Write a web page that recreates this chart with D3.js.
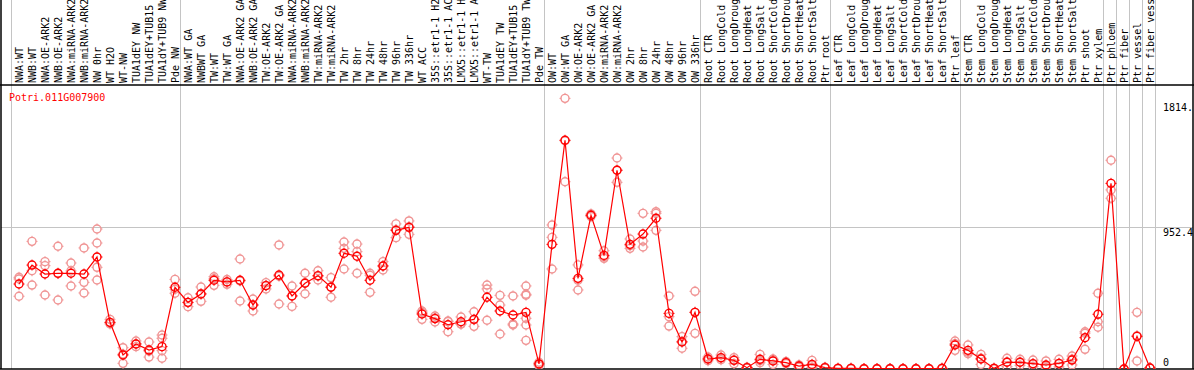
<!DOCTYPE html>
<html>
<head>
<meta charset="utf-8">
<script src="https://cdnjs.cloudflare.com/ajax/libs/d3/7.8.5/d3.min.js"></script>
<style>
	body { margin: 0; background: #fff; }
	svg { display: block; }
	text { font-family: 'DejaVu Sans Mono', monospace; font-size: 10px; }
</style>
</head>
<body>
<script>

// sample names, one per column
var categories = [
	'NWA:WT', 'NWB:WT', 'NWA:OE-ARK2', 'NWB:OE-ARK2', 'NWA:miRNA-ARK2', 'NWB:miRNA-ARK2',
	'NW 0hr', 'WT H2O', 'WT-NW', 'TUA1dEY NW', 'TUA1dEY+TUB15 NW', 'TUA1dY+TUB9 NW', 'Pde NW',
	'NWA:WT GA', 'NWBWT GA', 'TW:WT', 'TW:WT GA', 'NWA:OE-ARK2 GA', 'NWB:OE-ARK2 GA',
	'TW:OE-ARK2', 'TW:OE-ARK2 GA', 'NWA:miRNA-ARK2 GA', 'NWB:miRNA-ARK2 GA', 'TW:miRNA-ARK2',
	'TW:miRNA-ARK2 GA', 'TW 2hr', 'TW 8hr', 'TW 24hr', 'TW 48hr', 'TW 96hr', 'TW 336hr', 'WT ACC',
	'35S::etr1-1 H2O', '35S::etr1-1 ACC', 'LMX5::etr1-1 H2O', 'LMX5::etr1-1 ACC', 'WT-TW',
	'TUA1dEY TW', 'TUA1dEY+TUB15 TW', 'TUA1dY+TUB9 TW', 'Pde TW',
	'OW:WT', 'OW:WT GA', 'OW:OE-ARK2', 'OW:OE-ARK2 GA', 'OW:miRNA-ARK2', 'OW:miRNA-ARK2 GA',
	'OW 2hr', 'OW 8hr', 'OW 24hr', 'OW 48hr', 'OW 96hr', 'OW 336hr',
	'Root CTR', 'Root LongCold', 'Root LongDrought', 'Root LongHeat', 'Root LongSalt',
	'Root ShortCold', 'Root ShortDrought', 'Root ShortHeat', 'Root ShortSalt', 'Ptr root',
	'Leaf CTR', 'Leaf LongCold', 'Leaf LongDrought', 'Leaf LongHeat', 'Leaf LongSalt',
	'Leaf ShortCold', 'Leaf ShortDrought', 'Leaf ShortHeat', 'Leaf ShortSalt', 'Ptr leaf',
	'Stem CTR', 'Stem LongCold', 'Stem LongDrought', 'Stem LongHeat', 'Stem LongSalt',
	'Stem ShortCold', 'Stem ShortDrought', 'Stem ShortHeat', 'Stem ShortSalt', 'Ptr shoot',
	'Ptr xylem', 'Ptr phloem', 'Ptr fiber', 'Ptr vessel', 'Ptr fiber vessel'
];

// first sample of each block (grey separators)
var groupStarts = [
	'NWA:WT', 'NWA:WT GA', 'OW:WT', 'Root CTR', 'Leaf CTR', 'Stem CTR',
	'Ptr phloem', 'Ptr fiber', 'Ptr vessel', 'Ptr fiber vessel'
];

// mean expression per sample
var means = [
	570, 697, 637, 642, 642, 637, 751, 313, 94, 168, 127, 150, 548,
	447, 503, 595, 584, 595, 429, 559, 630, 490, 575, 626, 548, 776, 756, 595, 691, 930,
	950, 369, 338, 297, 317, 333, 481, 389, 362, 380, 34,
	836, 1534, 608, 1031, 762, 1333, 836, 905, 1011, 373, 181, 380,
	67, 76, 58, 9, 65, 54, 43, 20, 31, 9,
	4, 4, 2, 2, 2, 2, 2, 2, 4, 161,
	125, 67, 4, 45, 45, 36, 27, 38, 60, 210, 367,
	1245, 0, 219, 7
];

// replicate values per sample
var replicates = [
	[615, 604, 488], [856, 659, 563], [720, 693, 496], [823, 640, 463], [711, 658, 557],
	[812, 581, 510], [939, 845, 682, 597], [333, 310, 302], [143, 100, 38], [188, 168, 150],
	[181, 120, 80], [228, 206, 123, 72], [601, 535, 508],
	[478, 445, 418], [550, 505, 454], [619, 605, 561], [600, 584, 568], [738, 590, 456],
	[469, 430, 389], [579, 560, 537], [832, 622, 436], [557, 490, 420], [642, 578, 505],
	[659, 622, 597], [613, 550, 481], [852, 809, 671], [838, 787, 642], [642, 629, 514],
	[720, 691, 664], [973, 935, 881], [993, 955, 903], [389, 380, 333], [355, 342, 315],
	[322, 318, 250], [349, 303, 300], [384, 330, 286], [563, 537, 327], [494, 429, 235],
	[490, 302, 295], [557, 501, 495, 340, 295, 192], [45, 34, 22],
	[966, 883, 671], [1815, 1531, 1256], [698, 596, 530], [1040, 1031, 1022], [793, 752, 742],
	[1415, 1333, 1252], [872, 827, 809], [1044, 858, 818], [1055, 1044, 930], [490, 351, 288],
	[217, 185, 139], [521, 380, 239],
	[80, 67, 55], [94, 72, 62], [76, 62, 36], [12, 9, 6], [98, 55, 42],
	[67, 63, 31], [50, 43, 36], [28, 20, 12], [58, 25, 10], [12, 9, 6],
	[6, 4, 2], [6, 4, 2], [3, 2, 1], [3, 2, 1], [3, 2, 1],
	[3, 2, 1], [3, 2, 1], [3, 2, 1], [6, 4, 2], [188, 170, 125],
	[161, 112, 102], [98, 72, 31], [6, 4, 2], [72, 47, 16], [65, 45, 25],
	[60, 32, 16], [54, 20, 8], [65, 35, 14], [87, 66, 27], [250, 240, 132], [508, 317, 280],
	[1400, 1201, 1145], [0, 0, 0], [380, 223, 54], [7, 7, 7]
];

var geneName = 'Potri.011G007900';
var maxValue = 1814;
var tickValues = [1814, 952.4, 0];
var tickLabels = ['1814.', '952.4', '0'];

var width = 1194,
	height = 370,
	left = 1,
	right = 1193,
	plotTop = 85,
	plotBottom = 369,
	red = '#ff0000',
	pale = '#f09494',
	grid = '#c4c4c4';

var x = d3.scaleBand()
	.domain(categories)
	.range([11, 11 + categories.length * 13])
	.paddingInner(0);

var px = function(c) { return x(c) + 8; };

var y = d3.scaleLinear()
	.domain([0, maxValue * 1.05])
	.range([plotBottom, plotTop]);

var svg = d3.select('body')
	.append('svg')
	.attr('width', width)
	.attr('height', height);

svg.append('rect')
	.attr('width', width)
	.attr('height', height)
	.attr('fill', '#fff');

svg.append('clipPath')
	.attr('id', 'plot_clip')
	.append('rect')
	.attr('x', left)
	.attr('y', plotTop)
	.attr('width', right - left)
	.attr('height', plotBottom - plotTop);

// grey separators between sample blocks
var seps = groupStarts.map(function(c) { return x(c); });
seps.push(x.range()[1]);

svg.selectAll('line.sep')
	.data(seps)
	.enter()
	.append('line')
	.attr('class', 'sep')
	.attr('x1', function(d) { return d + 0.5; })
	.attr('x2', function(d) { return d + 0.5; })
	.attr('y1', 0)
	.attr('y2', plotBottom)
	.attr('stroke', grid)
	.attr('stroke-width', 1);

// mid gridline
svg.append('line')
	.attr('x1', left)
	.attr('x2', right)
	.attr('y1', Math.round(y(tickValues[1])) + 0.5)
	.attr('y2', Math.round(y(tickValues[1])) + 0.5)
	.attr('stroke', grid);

// rotated sample labels
svg.selectAll('text.cat')
	.data(categories)
	.enter()
	.append('text')
	.attr('class', 'cat')
	.attr('transform', function(d) {
		return 'translate(' + (px(d) + 4) + ',83) rotate(-90)';
	})
	.attr('fill', '#000')
	.text(function(d) { return d; });

// frame
var frame = svg.append('g')
	.attr('stroke', '#000')
	.attr('stroke-width', 1.5)
	.attr('fill', 'none');

frame.append('line').attr('x1', 0).attr('x2', width).attr('y1', plotTop).attr('y2', plotTop);
frame.append('line').attr('x1', 0).attr('x2', width).attr('y1', plotBottom).attr('y2', plotBottom);
frame.append('line').attr('x1', left).attr('x2', left).attr('y1', 0).attr('y2', plotBottom);
frame.append('line').attr('x1', right).attr('x2', right).attr('y1', 0).attr('y2', plotBottom);

// right side value labels
svg.selectAll('text.tick')
	.data(tickValues)
	.enter()
	.append('text')
	.attr('class', 'tick')
	.attr('x', 1163)
	.attr('y', function(d, i) { return y(d) + [12.5, 9, -3][i]; })
	.attr('fill', '#000')
	.text(function(d, i) { return tickLabels[i]; });

svg.append('text')
	.attr('x', 9)
	.attr('y', 101)
	.attr('fill', red)
	.text(geneName);

var plot = svg.append('g')
	.attr('clip-path', 'url(#plot_clip)');

// circle with little ticks, like the original renderer draws them
var marker = function(g, cx, cy, color) {
	g.append('circle')
		.attr('cx', cx)
		.attr('cy', cy)
		.attr('r', 4)
		.attr('fill', 'none')
		.attr('stroke', color)
		.attr('stroke-width', 1.4);
	g.append('path')
		.attr('d', 'M' + cx + ',' + (cy - 5.5) + 'v1.5M' + cx + ',' + (cy + 4) + 'v1.5' +
			'M' + (cx - 5.5) + ',' + cy + 'h1.5M' + (cx + 4) + ',' + cy + 'h1.5')
		.attr('stroke', color)
		.attr('stroke-width', 1);
};

// replicate points
var repGroup = plot.append('g');
categories.forEach(function(c, i) {
	replicates[i].forEach(function(v) {
		marker(repGroup, px(c), y(v), pale);
	});
});

// mean line
var line = d3.line()
	.x(function(d, i) { return px(categories[i]); })
	.y(function(d) { return y(d); });

plot.append('path')
	.datum(means)
	.attr('d', line)
	.attr('fill', 'none')
	.attr('stroke', red)
	.attr('stroke-width', 1.2);

var meanGroup = plot.append('g');
categories.forEach(function(c, i) {
	marker(meanGroup, px(c), y(means[i]), red);
});

</script>
</body>
</html>
